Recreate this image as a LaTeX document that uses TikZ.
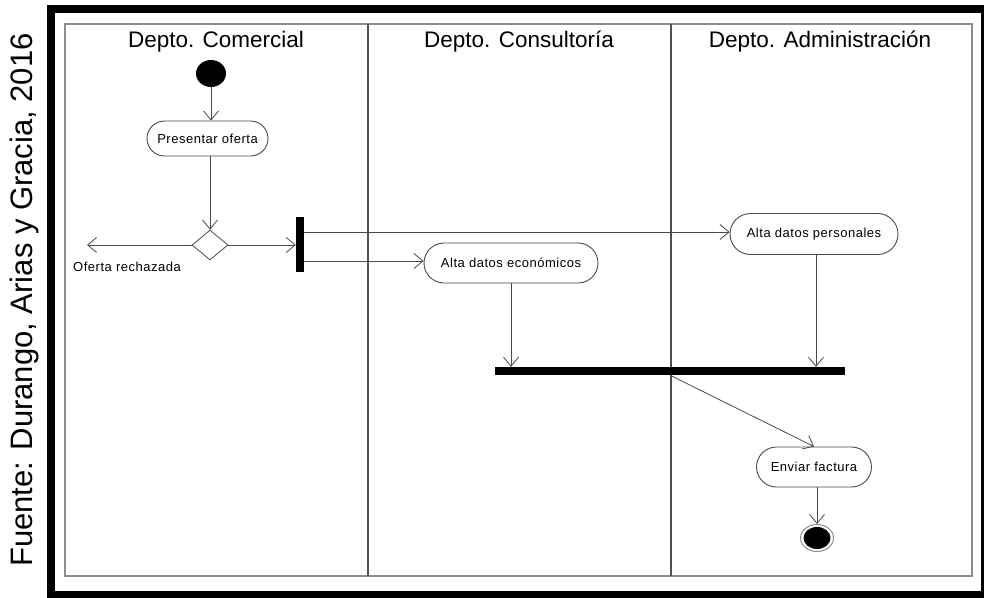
\documentclass[tikz,border=0pt]{standalone}
\usepackage{fontspec}
\setmainfont{Liberation Sans}
\usetikzlibrary{arrows.meta,shapes.geometric,shapes.misc}

\definecolor{linegray}{HTML}{4A4A4A}
\definecolor{framegray}{HTML}{8C8C8C}
\definecolor{lanegray}{HTML}{505050}

\begin{document}
\begin{tikzpicture}[x=1pt,y=-1pt,
  flow/.style={draw=linegray, line width=0.8pt,
    -{Straight Barb[length=9pt,width=15pt,line width=0.8pt]}},
  action/.style={rounded rectangle, draw=linegray, line width=0.9pt,
    inner sep=0pt, font=\fontsize{13}{15}\selectfont\addfontfeatures{LetterSpace=4}},
  lanehead/.style={font=\fontsize{22.5}{25}\selectfont, inner sep=0pt},
  bar/.style={fill=black, inner sep=0pt},
  note/.style={font=\fontsize{13}{15}\selectfont\addfontfeatures{LetterSpace=4}, inner sep=0pt}
]
\useasboundingbox (0,0) rectangle (984,597);

% outer black frame and swimlane box
\draw[line width=8pt] (51,9) rectangle (985,595);
\draw[framegray, line width=2pt] (64.5,24) rectangle (972,576);
\draw[lanegray, line width=1.2pt] (368,24) -- (368,576);
\draw[lanegray, line width=1.2pt] (671,24) -- (671,576);

% source caption
\node[rotate=90, font=\fontsize{31}{33}\selectfont, inner sep=0pt]
  (src) at (24,300) {Fuente: Durango, Arias y Gracia, 2016};

% lane headers
\node[lanehead] (h1) at (216,42) {Depto. Comercial};
\node[lanehead] (h2) at (519,42) {Depto. Consultoría};
\node[lanehead] (h3) at (820,42) {Depto. Administración};

% activity nodes
\node[ellipse, fill=black, inner sep=0pt, minimum width=30pt, minimum height=27pt] (start) at (211,73.5) {};
\node[action, minimum width=121pt, minimum height=35pt] (present) at (207.5,138.5) {Presentar oferta};
\node[diamond, draw=linegray, line width=0.8pt, inner sep=0pt, minimum width=36pt, minimum height=30pt] (dec) at (210,245) {};
\coordinate (reject) at (87,245);
\node[note, anchor=west] (rejlbl) at (73,267) {Oferta rechazada};
\node[bar, minimum width=8pt, minimum height=55pt] (fork) at (300,244.5) {};
\node[action, minimum width=168pt, minimum height=41pt] (personal) at (814,234) {Alta datos personales};
\node[action, minimum width=174pt, minimum height=40pt] (econ) at (511,263) {Alta datos económicos};
\node[bar, minimum width=350pt, minimum height=8pt] (join) at (670,371) {};
\node[action, minimum width=115pt, minimum height=40pt] (factura) at (814,467) {Enviar factura};
\node[ellipse, draw=framegray, line width=1pt, fill=white, inner sep=0pt, minimum width=33pt, minimum height=27pt] (final) at (817,538) {};
\node[ellipse, fill=black, inner sep=0pt, minimum width=27pt, minimum height=22pt] (finaldot) at (final.center) {};

% control flow
\draw[flow] (start.south) -- (present.north -| start.south);
\draw[flow] (present.south -| dec.north) -- (dec.north);
\draw[flow] (dec.west) -- (reject);
\draw[flow] (dec.east) -- (fork.west |- dec.east);
\draw[flow] (fork.east |- 0,232) -- (personal.west |- 0,232);
\draw[flow] (fork.east |- 0,261) -- (econ.west |- 0,261);
\draw[flow] (econ.south -| 511,0) -- (join.north -| 511,0);
\draw[flow] (personal.south -| 816,0) -- (join.north -| 816,0);
\draw[flow] (join.south) -- (factura.north);
\draw[flow] (factura.south -| final.north) -- (final.north);
\end{tikzpicture}
\end{document}
